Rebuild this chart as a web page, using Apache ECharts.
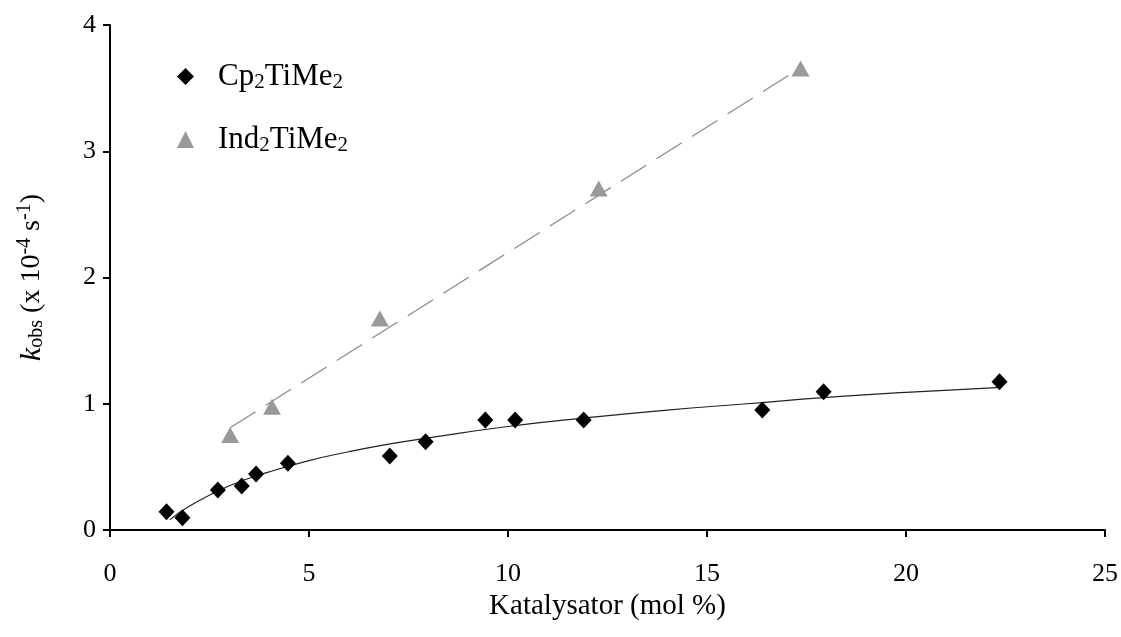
<!DOCTYPE html>
<html>
<head>
<meta charset="utf-8">
<script src="https://cdn.jsdelivr.net/npm/echarts@6/dist/echarts.min.js"></script>
<style>
html,body{margin:0;padding:0;background:#fff;}
#chart{width:1121px;height:637px;}
</style>
</head>
<body>
<div id="chart"></div>
<script>
// Data
const cpX = [1.42, 1.82, 2.71, 3.31, 3.67, 4.47, 7.03, 7.93, 9.43, 10.18, 11.90, 16.39, 17.93, 22.35];
const cpY = [0.145, 0.097, 0.317, 0.348, 0.443, 0.528, 0.586, 0.700, 0.871, 0.871, 0.871, 0.950, 1.095, 1.174];
const indX = [3.02, 4.07, 6.78, 12.28, 17.35];
const indY = [0.752, 0.976, 1.676, 2.705, 3.655];
// Trend curve for Cp2TiMe2
const cpFitX = [1.5, 2, 3, 4, 5, 6, 7, 8, 10, 12, 14, 16, 18, 20, 22.4];
const cpFitY = [0.08, 0.19, 0.35, 0.46, 0.55, 0.62, 0.68, 0.73, 0.82, 0.89, 0.95, 1.00, 1.05, 1.09, 1.13];
// Trend line for Ind2TiMe2 (end points)
const indFitX = [3.02, 17.35];
const indFitY = [0.81, 3.66];
const xTicks = [0, 5, 10, 15, 20, 25];
const yTicks = [0, 1, 2, 3, 4];

const zip = (a, b) => a.map((v, i) => [v, b[i]]);
const FONT = 'Liberation Serif';

const chart = echarts.init(document.getElementById('chart'));
chart.setOption({
  animation: false,
  backgroundColor: '#ffffff',
  grid: { left: 110, right: 11, top: 25, bottom: 107, containLabel: false },
  legend: {
    orient: 'vertical',
    left: 172,
    top: 55,
    itemWidth: 17,
    itemHeight: 17,
    itemGap: 30,
    selectedMode: false,
    data: [
      { name: 'Cp2TiMe2', icon: 'diamond', itemStyle: { color: '#000000' } },
      { name: 'Ind2TiMe2', icon: 'triangle', itemStyle: { color: '#999999' } }
    ],
    formatter: function (name) {
      if (name === 'Cp2TiMe2') return '{a|Cp}{s|2}{a|TiMe}{s|2}';
      return '{a|Ind}{s|2}{a|TiMe}{s|2}';
    },
    textStyle: {
      padding: [0, 0, 0, 19],
      rich: {
        a: { fontFamily: FONT, fontSize: 31, color: '#000', lineHeight: 36 },
        s: { fontFamily: FONT, fontSize: 21, color: '#000', lineHeight: 36, padding: [12, 0, 0, 0] }
      }
    }
  },
  xAxis: {
    type: 'value',
    min: 0, max: 25, interval: 5,
    name: '{a|Katalysator (mol %)}',
    nameLocation: 'middle',
    nameGap: 62,
    nameTextStyle: { rich: { a: { fontFamily: FONT, fontSize: 29, color: '#000' } } },
    axisLine: { show: true, onZero: false, lineStyle: { color: '#000', width: 2 } },
    axisTick: { show: true, inside: false, length: 7, lineStyle: { color: '#000', width: 2 } },
    axisLabel: {
      fontFamily: FONT, fontSize: 26, color: '#000', margin: 31,
      formatter: v => (xTicks.includes(v) ? String(v) : '')
    },
    splitLine: { show: false }
  },
  yAxis: {
    type: 'value',
    min: 0, max: 4, interval: 1,
    name: '{k|k}{sub|obs}{a| (x 10}{sup|-4}{a| s}{sup|-1}{a|)}',
    nameLocation: 'middle',
    nameRotate: 90,
    nameGap: 60,
    nameTextStyle: {
      rich: {
        k: { fontFamily: FONT, fontSize: 30, fontStyle: 'italic', color: '#000', lineHeight: 36 },
        a: { fontFamily: FONT, fontSize: 28, color: '#000', lineHeight: 36 },
        sub: { fontFamily: FONT, fontSize: 20, color: '#000', lineHeight: 36, padding: [10, 0, 0, 0] },
        sup: { fontFamily: FONT, fontSize: 20, color: '#000', lineHeight: 36, padding: [0, 0, 14, 0] }
      }
    },
    axisLine: { show: true, lineStyle: { color: '#000', width: 2 } },
    axisTick: { show: true, inside: false, length: 7, lineStyle: { color: '#000', width: 2 } },
    axisLabel: {
      fontFamily: FONT, fontSize: 26, color: '#000', margin: 14,
      formatter: v => (yTicks.includes(v) ? String(v) : '')
    },
    splitLine: { show: false }
  },
  series: [
    {
      name: 'Cp2TiMe2 fit',
      type: 'line',
      data: zip(cpFitX, cpFitY),
      smooth: true,
      showSymbol: false,
      symbol: 'none',
      lineStyle: { color: '#222222', width: 1.2 },
      z: 2
    },
    {
      name: 'Ind2TiMe2 fit',
      type: 'line',
      data: zip(indFitX, indFitY),
      showSymbol: false,
      symbol: 'none',
      lineStyle: { color: '#888888', width: 1.2, type: [30, 12] },
      z: 2
    },
    {
      name: 'Cp2TiMe2',
      type: 'scatter',
      symbol: 'diamond',
      symbolSize: [16, 17],
      itemStyle: { color: '#000000', opacity: 1 },
      data: zip(cpX, cpY),
      z: 3
    },
    {
      name: 'Ind2TiMe2',
      type: 'scatter',
      symbol: 'triangle',
      symbolSize: [18, 16],
      itemStyle: { color: '#999999', opacity: 1 },
      data: zip(indX, indY),
      z: 3
    }
  ]
});
</script>
</body>
</html>
